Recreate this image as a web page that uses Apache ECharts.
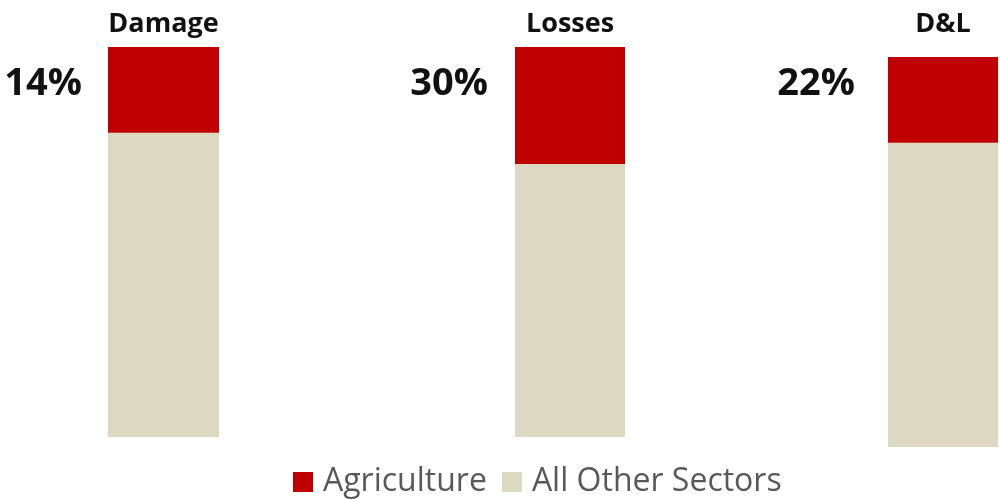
<!DOCTYPE html>
<html>
<head>
<meta charset="utf-8">
<script src="https://cdn.jsdelivr.net/npm/echarts@6/dist/echarts.min.js"></script>
<style>html,body{margin:0;padding:0;background:#fff;}#c{width:1000px;height:499px;}</style>
</head>
<body>
<div id="c"></div>
<script>
var categories = ['Damage', 'Losses', 'D&L'];
var agriculture = [22, 30, 22];
var otherSectors = [78, 70, 78];
var pctLabels = ['14%', '30%', '22%'];
var seriesNames = ['Agriculture', 'All Other Sectors'];

var RED = '#C00000';
var BEIGE = '#DDD8C2';
var FONT = '"Open Sans", sans-serif';

var grids = [
  {left: 108, top: 47, width: 111, height: 390},
  {left: 515, top: 47, width: 110, height: 390},
  {left: 888, top: 57, width: 110, height: 390}
];
var labelMargins = [9, 9, 19];
var pctPos = [[82, 84], [488, 84], [855, 84]];

var xAxes = [], yAxes = [], series = [], graphics = [];
categories.forEach(function (cat, i) {
  xAxes.push({
    gridIndex: i, type: 'category', data: [cat], position: 'top',
    axisLine: {show: false}, axisTick: {show: false},
    axisLabel: {show: true, fontFamily: FONT, fontWeight: 'bold', fontSize: 27, color: '#111', margin: labelMargins[i]}
  });
  yAxes.push({gridIndex: i, type: 'value', min: 0, max: 100, show: false, splitLine: {show: false}});
  series.push({
    name: seriesNames[1], type: 'bar', xAxisIndex: i, yAxisIndex: i, stack: 's' + i,
    barWidth: '100%', data: [otherSectors[i]], itemStyle: {color: BEIGE}, silent: true
  });
  series.push({
    name: seriesNames[0], type: 'bar', xAxisIndex: i, yAxisIndex: i, stack: 's' + i,
    barWidth: '100%', data: [agriculture[i]], itemStyle: {color: RED}, silent: true
  });
  graphics.push({
    type: 'text', x: pctPos[i][0], y: pctPos[i][1],
    style: {text: pctLabels[i], fill: '#111', font: 'bold 38px ' + FONT, align: 'right', verticalAlign: 'middle'}
  });
});

var chart = echarts.init(document.getElementById('c'));
chart.setOption({
  animation: false,
  backgroundColor: '#fff',
  grid: grids,
  xAxis: xAxes,
  yAxis: yAxes,
  series: series,
  graphic: graphics,
  legend: {
    data: seriesNames, left: 288, top: 461, icon: 'rect',
    itemWidth: 20, itemHeight: 20, itemGap: 15,
    textStyle: {fontFamily: FONT, fontSize: 32, color: '#595959', padding: [0, 0, 0, 5]}
  }
});
</script>
</body>
</html>
